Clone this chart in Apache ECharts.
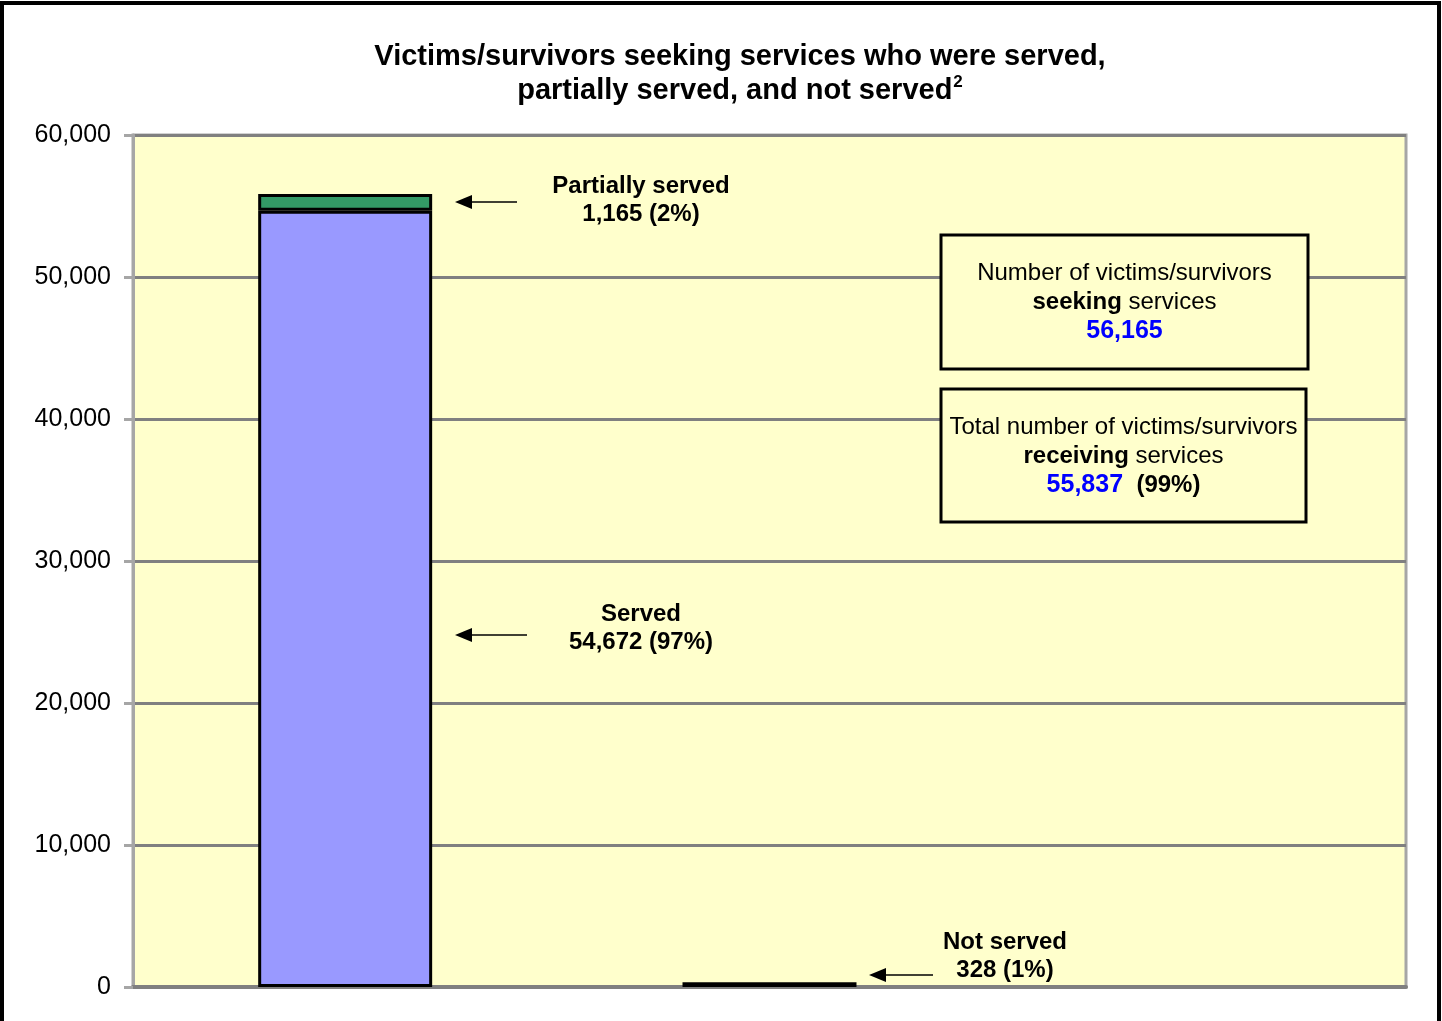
<!DOCTYPE html>
<html>
<head>
<meta charset="utf-8">
<script src="https://cdn.jsdelivr.net/npm/echarts@6/dist/echarts.min.js"></script>
<style>
  html, body { margin: 0; padding: 0; background: #fff; }
  #main { width: 1442px; height: 1021px; }
</style>
</head>
<body>
<div id="main"></div>
<script>
// 数据
var categories = ['Seeking', 'Not served', ''];
var servedData = [54672, '-', '-'];
var partialData = [1165, '-', '-'];
var notServedData = ['-', 328, '-'];
var yTicks = [0, 10000, 20000, 30000, 40000, 50000, 60000];

var seekingTotal = '56,165';
var receivingTotal = '55,837';

var FONT = '"Liberation Sans", Arial, sans-serif';

function fmt(v) {
    return String(v).replace(/\B(?=(\d{3})+(?!\d))/g, ',');
}

var myChart = echarts.init(document.getElementById('main'));

// 箭头
function arrow(x1, x2, y) {
    return [
        { type: 'line', shape: { x1: x1, y1: y, x2: x2 + 12, y2: y }, style: { stroke: '#000', lineWidth: 1.5 }, z: 10 },
        { type: 'polygon', shape: { points: [[x2, y], [x2 + 17, y - 7], [x2 + 17, y + 7]] }, style: { fill: '#000' }, z: 10 }
    ];
}

function label(x, y, lines) {
    return {
        type: 'text', x: x, y: y, z: 10,
        style: {
            text: lines.join('\n'),
            font: 'bold 24px ' + FONT,
            fill: '#000',
            align: 'center',
            verticalAlign: 'top',
            lineHeight: 28
        }
    };
}

function infoBox(x, y, w, h, lines) {
    return [
        { type: 'rect', shape: { x: x, y: y, width: w, height: h }, style: { fill: '#FFFFCC', stroke: '#000', lineWidth: 3 }, z: 10 },
        {
            type: 'text', x: x + w / 2, y: y + 24, z: 11,
            style: {
                text: lines.join('\n'),
                font: '24px ' + FONT,
                fill: '#000',
                align: 'center',
                verticalAlign: 'top',
                lineHeight: 29,
                rich: {
                    b: { font: 'bold 24px ' + FONT, fill: '#000', lineHeight: 29 },
                    blue: { font: 'bold 25px ' + FONT, fill: '#0000FF', lineHeight: 29 },
                    n: { font: '24px ' + FONT, fill: '#000', lineHeight: 29 }
                }
            }
        }
    ];
}

var graphics = [
    { type: 'rect', shape: { x: 2, y: 3, width: 1437, height: 1040 }, style: { fill: null, stroke: '#000', lineWidth: 4 }, z: 0 },
    {
        type: 'text', x: 740, y: 40, z: 10,
        style: {
            text: 'Victims/survivors seeking services who were served,\npartially served, and not served{sup|2}',
            font: 'bold 29px ' + FONT,
            fill: '#000',
            align: 'center',
            verticalAlign: 'top',
            lineHeight: 34,
            rich: {
                sup: { font: 'bold 17px ' + FONT, fill: '#000', verticalAlign: 'top', padding: [0, 0, 10, 1] }
            }
        }
    },
    label(641, 172, ['Partially served', fmt(partialData[0]) + ' (2%)']),
    label(641, 600, ['Served', fmt(servedData[0]) + ' (97%)']),
    label(1005, 928, ['Not served', fmt(notServedData[1]) + ' (1%)'])
]
.concat(arrow(517, 455, 202))
.concat(arrow(527, 455, 635))
.concat(arrow(933, 869, 975))
.concat(infoBox(941, 235, 367, 134, [
    '{n|Number of victims/survivors}',
    '{b|seeking} {n|services}',
    '{blue|' + seekingTotal + '}'
]))
.concat(infoBox(941, 389, 365, 133, [
    '{n|Total number of victims/survivors}',
    '{b|receiving} {n|services}',
    '{blue|' + receivingTotal + '}  {b|(99%)}'
]));

var option = {
    backgroundColor: '#fff',
    animation: false,
    grid: {
        left: 133, right: 36, top: 135, bottom: 34,
        show: true,
        backgroundColor: '#FFFFCC',
        borderColor: '#A6A6A6',
        borderWidth: 3
    },
    xAxis: {
        type: 'category',
        data: categories,
        axisLine: { lineStyle: { color: '#808080', width: 4 } },
        axisTick: { show: false },
        axisLabel: { show: false }
    },
    yAxis: {
        type: 'value',
        min: yTicks[0],
        max: yTicks[yTicks.length - 1],
        interval: 10000,
        axisLine: { show: true, lineStyle: { color: '#A6A6A6', width: 3 } },
        axisTick: { show: true, length: 9, lineStyle: { color: '#A6A6A6', width: 3 } },
        axisLabel: {
            color: '#000',
            fontFamily: FONT,
            fontSize: 25,
            margin: 22,
            formatter: function (v) { return fmt(v); }
        },
        splitLine: { lineStyle: { color: '#808080', width: 3 } }
    },
    series: [
        {
            name: 'Served', type: 'bar', stack: 'all', barWidth: '41%',
            data: servedData,
            itemStyle: { color: '#9999FF', borderColor: '#000', borderWidth: 3 }
        },
        {
            name: 'Partially served', type: 'bar', stack: 'all',
            data: partialData,
            itemStyle: { color: '#339966', borderColor: '#000', borderWidth: 3 }
        },
        {
            name: 'Not served', type: 'bar', stack: 'all',
            data: notServedData,
            itemStyle: { color: '#000', borderColor: '#000', borderWidth: 4 }
        }
    ],
    graphic: graphics
};

myChart.setOption(option);
</script>
</body>
</html>
